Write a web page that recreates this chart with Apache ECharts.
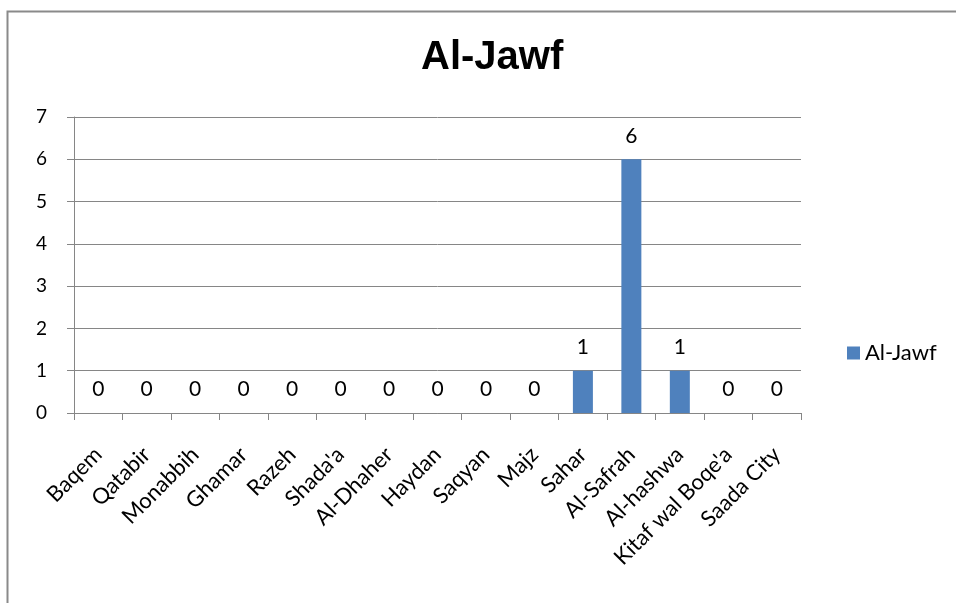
<!DOCTYPE html>
<html>
<head>
<meta charset="utf-8">
<script src="https://cdn.jsdelivr.net/npm/echarts@6/dist/echarts.min.js"></script>
<style>
  html, body { margin: 0; padding: 0; background: #ffffff; }
  #chart { width: 956px; height: 603px; }
</style>
</head>
<body>
<div id="chart"></div>
<script>
// District names along the x axis
const categories = [
  'Baqem', 'Qatabir', 'Monabbih', 'Ghamar', 'Razeh', "Shada'a", 'Al-Dhaher',
  'Haydan', 'Saqyan', 'Majz', 'Sahar', 'Al-Safrah', 'Al-hashwa',
  "Kitaf wal Boqe'a", 'Saada City'
];
// Counts for the Al-Jawf series
const alJawfValues = [0, 0, 0, 0, 0, 0, 0, 0, 0, 0, 1, 6, 1, 0, 0];
// Value axis range
const yMin = 0, yMax = 7, yStep = 1;

const FONT = 'Lato, "Open Sans", sans-serif';
const chart = echarts.init(document.getElementById('chart'), null, { renderer: 'canvas' });

chart.setOption({
  backgroundColor: '#ffffff',
  animation: false,
  title: {
    text: 'Al-Jawf',
    left: 416,
    top: 33,
    textStyle: { fontFamily: '"Liberation Sans", Arial, sans-serif', fontWeight: 'bold', fontSize: 40, color: '#000' }
  },
  legend: {
    data: ['Al-Jawf'],
    left: 842,
    top: 337,
    itemWidth: 13,
    itemHeight: 13,
    itemGap: 5,
    icon: 'rect',
    textStyle: { fontFamily: FONT, fontSize: 22, color: '#000' }
  },
  grid: { left: 74, right: 155, top: 117, bottom: 190, containLabel: false },
  xAxis: {
    type: 'category',
    data: categories,
    boundaryGap: true,
    axisLine: { lineStyle: { color: '#868686', width: 1 } },
    axisTick: { show: true, length: 7, alignWithLabel: false, lineStyle: { color: '#868686' } },
    axisLabel: {
      interval: 0,
      rotate: 45,
      margin: 38,
      fontFamily: FONT,
      fontSize: 22,
      color: '#000'
    },
    splitLine: { show: false }
  },
  yAxis: {
    type: 'value',
    min: yMin,
    max: yMax,
    interval: yStep,
    axisLine: { show: true, lineStyle: { color: '#868686', width: 1 } },
    axisTick: { show: true, length: 7, lineStyle: { color: '#868686' } },
    axisLabel: { margin: 27, fontFamily: FONT, fontSize: 19, color: '#000' },
    splitLine: { show: true, lineStyle: { color: '#868686', width: 1 } }
  },
  graphic: [{
    type: 'rect',
    left: 5, top: 9,
    shape: { width: 1000, height: 700 },
    style: { fill: 'none', stroke: '#8a8a8a', lineWidth: 2 },
    silent: true
  }],
  series: [{
    name: 'Al-Jawf',
    type: 'bar',
    data: alJawfValues,
    barWidth: 20,
    itemStyle: { color: '#4f81bd' },
    label: {
      show: true,
      position: 'top',
      distance: 13,
      fontFamily: FONT,
      fontSize: 21,
      color: '#000'
    }
  }]
});
</script>
</body>
</html>
